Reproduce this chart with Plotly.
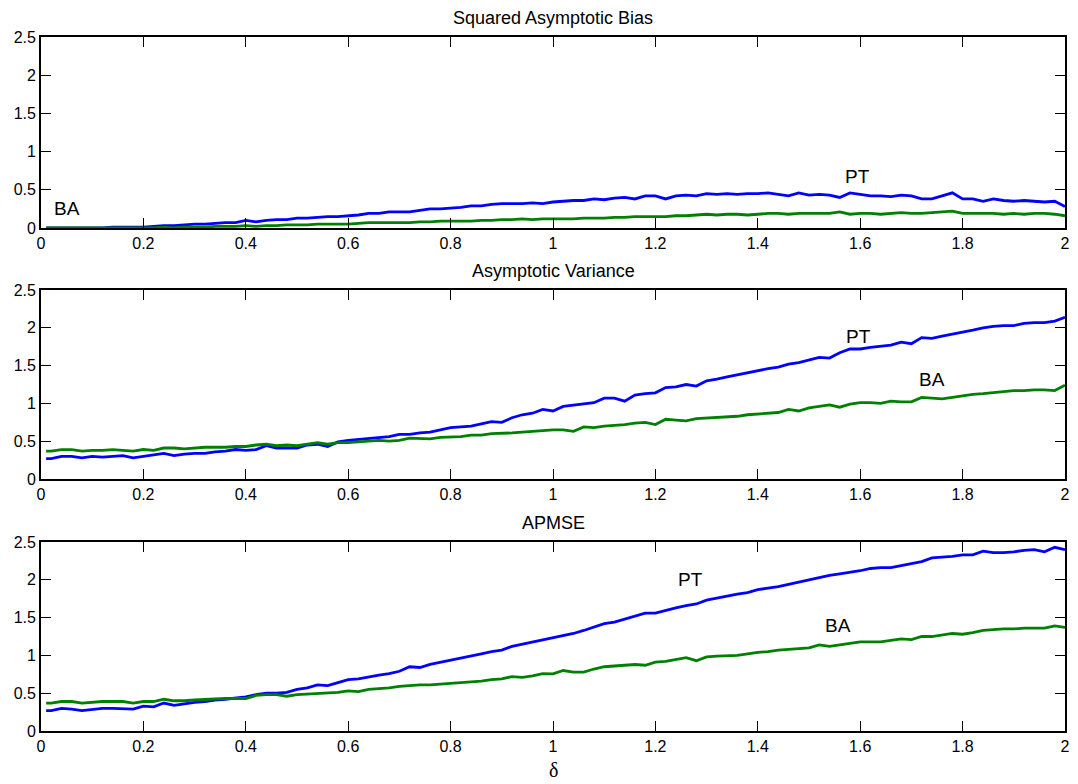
import plotly.graph_objects as go

delta = [0.01] + [round(0.02 * k, 2) for k in range(1, 101)]

bias_pt = [0.00,
    0.00, 0.00, 0.00, 0.00, 0.00,
    0.00, 0.01, 0.01, 0.01, 0.01,
    0.02, 0.03, 0.03, 0.04, 0.05,
    0.05, 0.06, 0.07, 0.07, 0.10,
    0.08, 0.10, 0.11, 0.11, 0.13,
    0.13, 0.14, 0.15, 0.15, 0.16,
    0.17, 0.19, 0.19, 0.21, 0.21,
    0.21, 0.23, 0.25, 0.25, 0.26,
    0.27, 0.29, 0.29, 0.31, 0.32,
    0.32, 0.32, 0.33, 0.32, 0.34,
    0.35, 0.36, 0.36, 0.38, 0.37,
    0.39, 0.40, 0.38, 0.42, 0.42,
    0.38, 0.42, 0.43, 0.42, 0.45,
    0.44, 0.45, 0.44, 0.45, 0.45,
    0.46, 0.44, 0.42, 0.46, 0.43,
    0.44, 0.43, 0.40, 0.46, 0.44,
    0.42, 0.42, 0.41, 0.43, 0.42,
    0.38, 0.38, 0.42, 0.46, 0.38,
    0.38, 0.35, 0.38, 0.36, 0.35,
    0.36, 0.35, 0.34, 0.35, 0.28]

bias_ba = [0.00,
    0.00, 0.00, 0.00, 0.00, 0.00,
    0.00, 0.00, 0.00, 0.00, 0.00,
    0.00, 0.01, 0.00, 0.01, 0.01,
    0.01, 0.02, 0.02, 0.02, 0.03,
    0.02, 0.03, 0.03, 0.04, 0.04,
    0.04, 0.05, 0.05, 0.05, 0.05,
    0.06, 0.07, 0.07, 0.07, 0.07,
    0.07, 0.08, 0.08, 0.09, 0.09,
    0.09, 0.09, 0.10, 0.10, 0.11,
    0.11, 0.12, 0.11, 0.12, 0.12,
    0.12, 0.12, 0.13, 0.13, 0.13,
    0.14, 0.14, 0.15, 0.15, 0.15,
    0.15, 0.16, 0.16, 0.17, 0.18,
    0.17, 0.18, 0.18, 0.17, 0.18,
    0.19, 0.19, 0.18, 0.19, 0.19,
    0.19, 0.19, 0.21, 0.18, 0.19,
    0.19, 0.18, 0.19, 0.20, 0.19,
    0.19, 0.20, 0.21, 0.22, 0.19,
    0.19, 0.19, 0.19, 0.18, 0.19,
    0.18, 0.19, 0.19, 0.18, 0.16]

var_pt = [0.27,
    0.27, 0.30, 0.30, 0.28, 0.30,
    0.29, 0.30, 0.31, 0.28, 0.30,
    0.31, 0.34, 0.31, 0.33, 0.34,
    0.34, 0.36, 0.37, 0.39, 0.38,
    0.39, 0.44, 0.41, 0.41, 0.41,
    0.45, 0.46, 0.43, 0.49, 0.51,
    0.52, 0.53, 0.55, 0.56, 0.59,
    0.59, 0.61, 0.62, 0.65, 0.68,
    0.69, 0.70, 0.73, 0.76, 0.75,
    0.81, 0.85, 0.87, 0.92, 0.90,
    0.96, 0.98, 1.00, 1.01, 1.07,
    1.07, 1.03, 1.11, 1.13, 1.14,
    1.21, 1.22, 1.25, 1.23, 1.30,
    1.32, 1.35, 1.38, 1.40, 1.44,
    1.46, 1.48, 1.52, 1.54, 1.58,
    1.61, 1.60, 1.67, 1.72, 1.72,
    1.74, 1.76, 1.77, 1.81, 1.79,
    1.87, 1.86, 1.89, 1.92, 1.95,
    1.97, 2.00, 2.02, 2.03, 2.03,
    2.06, 2.07, 2.07, 2.09, 2.14]

var_ba = [0.37,
    0.37, 0.39, 0.39, 0.37, 0.38,
    0.38, 0.39, 0.38, 0.37, 0.39,
    0.38, 0.41, 0.41, 0.40, 0.41,
    0.42, 0.42, 0.42, 0.43, 0.43,
    0.45, 0.46, 0.44, 0.45, 0.44,
    0.46, 0.48, 0.46, 0.48, 0.48,
    0.49, 0.50, 0.51, 0.50, 0.51,
    0.54, 0.53, 0.53, 0.55, 0.56,
    0.56, 0.58, 0.58, 0.60, 0.60,
    0.61, 0.62, 0.63, 0.64, 0.65,
    0.65, 0.63, 0.69, 0.68, 0.70,
    0.71, 0.72, 0.74, 0.75, 0.72,
    0.79, 0.78, 0.77, 0.80, 0.81,
    0.81, 0.82, 0.83, 0.85, 0.86,
    0.87, 0.88, 0.92, 0.90, 0.94,
    0.96, 0.98, 0.95, 0.99, 1.01,
    1.01, 1.00, 1.03, 1.02, 1.02,
    1.08, 1.07, 1.06, 1.08, 1.10,
    1.12, 1.13, 1.14, 1.16, 1.17,
    1.17, 1.18, 1.18, 1.17, 1.24]

apmse_pt = [0.27,
    0.27, 0.30, 0.29, 0.27, 0.28,
    0.30, 0.30, 0.30, 0.29, 0.33,
    0.32, 0.37, 0.34, 0.36, 0.38,
    0.39, 0.41, 0.42, 0.44, 0.45,
    0.48, 0.50, 0.50, 0.51, 0.55,
    0.57, 0.61, 0.60, 0.64, 0.68,
    0.69, 0.72, 0.74, 0.76, 0.79,
    0.85, 0.84, 0.88, 0.91, 0.93,
    0.96, 0.99, 1.02, 1.05, 1.07,
    1.12, 1.15, 1.18, 1.21, 1.24,
    1.26, 1.29, 1.33, 1.37, 1.42,
    1.44, 1.48, 1.52, 1.56, 1.56,
    1.60, 1.63, 1.66, 1.68, 1.73,
    1.76, 1.78, 1.81, 1.83, 1.87,
    1.89, 1.91, 1.94, 1.97, 2.00,
    2.02, 2.06, 2.08, 2.10, 2.12,
    2.15, 2.16, 2.16, 2.19, 2.22,
    2.24, 2.29, 2.30, 2.31, 2.33,
    2.33, 2.38, 2.36, 2.36, 2.37,
    2.39, 2.40, 2.37, 2.43, 2.40]

apmse_ba = [0.37,
    0.37, 0.39, 0.39, 0.37, 0.38,
    0.39, 0.39, 0.39, 0.37, 0.39,
    0.39, 0.42, 0.40, 0.40, 0.41,
    0.42, 0.42, 0.43, 0.43, 0.43,
    0.47, 0.48, 0.48, 0.46, 0.48,
    0.49, 0.50, 0.51, 0.51, 0.53,
    0.52, 0.55, 0.56, 0.57, 0.59,
    0.60, 0.61, 0.61, 0.62, 0.63,
    0.64, 0.65, 0.66, 0.68, 0.69,
    0.72, 0.71, 0.73, 0.76, 0.755,
    0.80, 0.78, 0.78, 0.82, 0.85,
    0.86, 0.87, 0.88, 0.87, 0.91,
    0.92, 0.95, 0.97, 0.93, 0.98,
    0.99, 0.99, 1.00, 1.02, 1.04,
    1.05, 1.07, 1.08, 1.09, 1.10,
    1.14, 1.12, 1.14, 1.16, 1.18,
    1.18, 1.18, 1.20, 1.22, 1.21,
    1.25, 1.25, 1.27, 1.29, 1.28,
    1.30, 1.33, 1.34, 1.35, 1.35,
    1.36, 1.36, 1.36, 1.39, 1.37]

titles = ["Squared Asymptotic Bias", "Asymptotic Variance", "APMSE"]
x_ticks = [0, 0.2, 0.4, 0.6, 0.8, 1, 1.2, 1.4, 1.6, 1.8, 2]
y_ticks = [0, 0.5, 1, 1.5, 2, 2.5]

# label annotations: (panel, text, x, y)
labels = [
    (1, "BA", 0.05, 0.25), (1, "PT", 1.595, 0.67),
    (2, "PT", 1.596, 1.89), (2, "BA", 1.74, 1.31),
    (3, "PT", 1.268, 2.0), (3, "BA", 1.557, 1.39),
]

BLUE = "#0000FF"
GREEN = "#008000"
FONT = "Liberation Sans, Arial, sans-serif"

fig = go.Figure()
panels = [(bias_pt, bias_ba), (var_pt, var_ba), (apmse_pt, apmse_ba)]
domains = [[0.7248, 1.0], [0.3631, 0.6354], [0.0, 0.2723]]

for i, (pt, ba) in enumerate(panels, start=1):
    xa = "x" if i == 1 else f"x{i}"
    ya = "y" if i == 1 else f"y{i}"
    fig.add_trace(go.Scatter(x=delta, y=pt, mode="lines", line=dict(color=BLUE, width=2.8),
                             xaxis=xa, yaxis=ya, showlegend=False))
    fig.add_trace(go.Scatter(x=delta, y=ba, mode="lines", line=dict(color=GREEN, width=2.8),
                             xaxis=xa, yaxis=ya, showlegend=False))

axis_common = dict(showgrid=False, zeroline=False, showline=True, linecolor="black",
                   linewidth=1.8, mirror="ticks", ticks="inside", ticklen=10, tickwidth=1,
                   tickcolor="black", automargin=False,
                   tickfont=dict(family=FONT, size=16, color="black"))

layout = dict(
    width=1078, height=784,
    margin=dict(l=41, r=13, t=37, b=53),
    paper_bgcolor="white", plot_bgcolor="white",
    font=dict(family=FONT, size=16, color="black"),
)
for i in range(1, 4):
    xk = "xaxis" if i == 1 else f"xaxis{i}"
    yk = "yaxis" if i == 1 else f"yaxis{i}"
    layout[xk] = dict(axis_common, range=[0, 2], tickvals=x_ticks,
                      ticktext=[f"{v:g}" for v in x_ticks],
                      anchor="y" if i == 1 else f"y{i}")
    layout[yk] = dict(axis_common, range=[0, 2.5], tickvals=y_ticks,
                      ticktext=[f"{v:g}" for v in y_ticks], domain=domains[i - 1],
                      anchor="x" if i == 1 else f"x{i}")
fig.update_layout(**layout)

annotations = []
for i, t in enumerate(titles):
    annotations.append(dict(text=t, x=0.5, y=domains[i][1], xref="paper", yref="paper",
                            xanchor="center", yanchor="bottom", yshift=7, showarrow=False,
                            font=dict(family=FONT, size=18, color="black")))
for (p, t, xv, yv) in labels:
    annotations.append(dict(text=t, x=xv, y=yv, xref="x" if p == 1 else f"x{p}",
                            yref="y" if p == 1 else f"y{p}", showarrow=False,
                            xanchor="center", yanchor="middle",
                            font=dict(family=FONT, size=19, color="black")))
annotations.append(dict(text="δ", x=0.5, y=0, xref="paper", yref="paper",
                        xanchor="center", yanchor="middle", yshift=-39, showarrow=False,
                        font=dict(family="Liberation Serif, Times New Roman, serif", size=20,
                                  color="black")))
fig.update_layout(annotations=annotations)

fig.write_html("out.html", config={"displayModeBar": False},
               post_script="document.body.style.margin='0';document.body.style.overflow='hidden';")
